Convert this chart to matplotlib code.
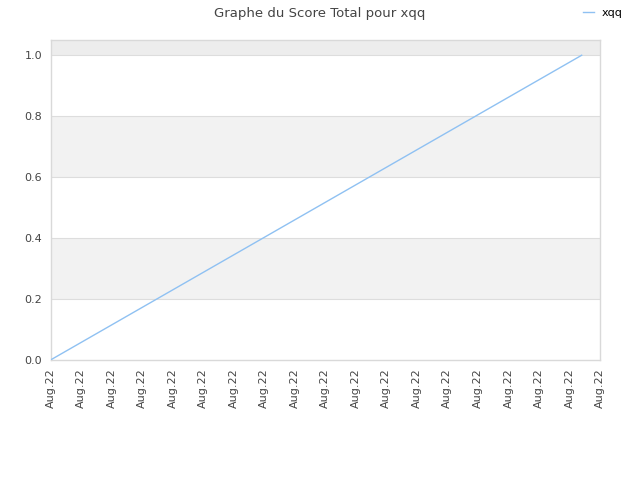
import matplotlib
matplotlib.use("Agg")
import matplotlib.pyplot as plt

# data
x_vals = [0.0, 17.4]
scores = [0.0, 1.0]
series_name = "xqq"
title = "Graphe du Score Total pour xqq"
n_ticks = 19
tick_labels = ["Aug.22"] * n_ticks
yticks = [0.0, 0.2, 0.4, 0.6, 0.8, 1.0]

fig = plt.figure(figsize=(6.4, 4.8), dpi=100)
ax = fig.add_axes([50.5/640, 1 - 360/480, (600 - 50.5)/640, (360 - 40)/480])

ax.set_xlim(0, n_ticks - 1)
ax.set_ylim(0, 1.05)

# alternating bands
ax.axhspan(0.2, 0.4, color="#f2f2f2", zorder=0, lw=0)
ax.axhspan(0.6, 0.8, color="#f2f2f2", zorder=0, lw=0)
ax.axhspan(1.0, 1.05, color="#ededed", zorder=0, lw=0)
for yv in yticks[1:]:
    ax.axhline(yv, color="#dddddd", lw=0.8, zorder=1)

line, = ax.plot(x_vals, scores, color="#8fc1f2", lw=1.0, zorder=3, label=series_name)

ax.set_xticks(range(n_ticks))
ax.set_xticklabels(tick_labels, rotation=90, fontsize=8, color="#444444")
ax.set_yticks(yticks)
ax.set_yticklabels([f"{v:.1f}" for v in yticks], fontsize=8, color="#444444")
ax.tick_params(length=0, pad=6)

for s in ax.spines.values():
    s.set_color("#d9d9d9")
    s.set_linewidth(1.0)

fig.text(0.5, 1 - 13/480, title, ha="center", va="center", fontsize=9.5, color="#444444")
fig.legend(handles=[line], loc="center right", bbox_to_anchor=(623/640, 1 - 13/480),
           frameon=False, fontsize=8, handlelength=1.0, handletextpad=0.7,
           borderaxespad=0, borderpad=0)

fig.savefig("out.png", dpi=100)
